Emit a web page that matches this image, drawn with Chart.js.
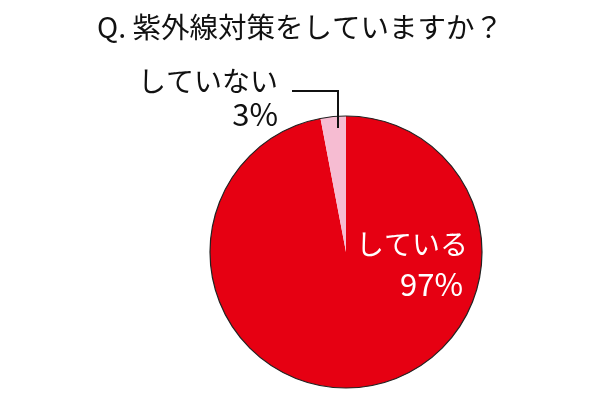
<!DOCTYPE html>
<html>
<head>
<meta charset="utf-8">
<script src="https://cdn.jsdelivr.net/npm/chart.js@4"></script>
<style>
  html, body { margin: 0; padding: 0; background: #fff; }
  #wrap { width: 610px; height: 400px; }
</style>
</head>
<body>
<div id="wrap"><canvas id="uvChart"></canvas></div>
<script>
    // ===================================
    // DATA
    // ===================================
    const answers = ['している', 'していない'];
    const shares = [97, 3];
    const sliceColors = ['#e60012', '#f6bcd2'];
    const titleText = 'Q. 紫外線対策をしていますか？';

    const jpFont = '"Noto Sans CJK JP", "Noto Sans", sans-serif';

    // --- title, outline + labels, placed from the arc elements ---
    const pieLabels = {
        id: 'pieLabels',
        afterDatasetsDraw(chart) {
            const ctx = chart.ctx;
            const arcs = chart.getDatasetMeta(0).data;
            const big = arcs[0];
            const cx = big.x, cy = big.y, r = big.outerRadius;

            ctx.save();
            // title (centred on the canvas, not the shifted pie)
            ctx.font = '28.5px ' + jpFont;
            ctx.fillStyle = '#111';
            ctx.textAlign = 'center';
            ctx.textBaseline = 'middle';
            ctx.fillText(titleText, chart.width / 2 - 5, 27);

            // outer rim
            ctx.beginPath();
            ctx.arc(cx, cy, r, 0, Math.PI * 2);
            ctx.lineWidth = 1.2;
            ctx.strokeStyle = '#222';
            ctx.stroke();

            ctx.textAlign = 'right';
            const kana = '28px ' + jpFont;
            const digits = '31px ' + jpFont;

            // big slice label (inside)
            ctx.fillStyle = '#fff';
            ctx.font = kana;
            ctx.fillText(answers[0], cx + 122, cy - 8);
            ctx.font = digits;
            ctx.fillText(shares[0] + '%', cx + 117, cy + 32);

            // small slice label (outside) with leader line
            ctx.fillStyle = '#111';
            ctx.font = kana;
            ctx.fillText(answers[1], cx - 68, cy - 171);
            ctx.font = digits;
            ctx.fillText(shares[1] + '%', cx - 68, cy - 138);

            ctx.beginPath();
            ctx.moveTo(cx - 54, cy - 161);
            ctx.lineTo(cx - 8, cy - 161);
            ctx.lineTo(cx - 8, cy - r + 12);
            ctx.lineWidth = 2;
            ctx.strokeStyle = '#111';
            ctx.stroke();
            ctx.restore();
        }
    };

    // ===================================
    // CHART CONFIG
    // ===================================
    const uvConfig = {
        type: 'pie',
        data: {
            labels: answers,
            datasets: [{
                data: shares,
                backgroundColor: sliceColors,
                borderWidth: 0
            }]
        },
        options: {
            responsive: true,
            maintainAspectRatio: false,
            animation: false,
            layout: {
                padding: { top: 116, bottom: 12, left: 100, right: 18 }
            },
            plugins: {
                legend: { display: false },
                tooltip: { enabled: false },
                title: { display: false }
            }
        },
        plugins: [pieLabels]
    };

    // --- Render Chart ---
    const ctxUv = document.getElementById('uvChart').getContext('2d');
    new Chart(ctxUv, uvConfig);
</script>
</body>
</html>
